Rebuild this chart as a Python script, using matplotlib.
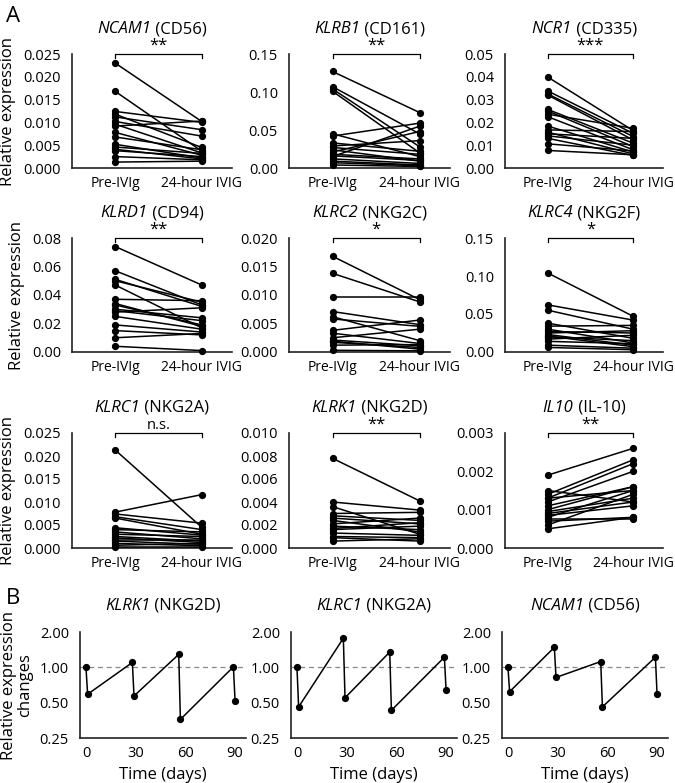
import matplotlib
matplotlib.use("Agg")
import matplotlib.pyplot as plt
import matplotlib.transforms as mtransforms
import numpy as np

plt.rcParams['font.family'] = ['Open Sans', 'DejaVu Sans']

# ---- Panel A data (pre-IVIg vs 24-hour IVIG, one pair per patient) ----
genes = ["NCAM1", "KLRB1", "NCR1", "KLRD1", "KLRC2", "KLRC4", "KLRC1", "KLRK1", "IL10"]
proteins = ["CD56", "CD161", "CD335", "CD94", "NKG2C", "NKG2F", "NKG2A", "NKG2D", "IL-10"]
signif = ["**", "**", "***", "**", "*", "*", "n.s.", "**", "**"]
ymax = [0.025, 0.15, 0.05, 0.08, 0.020, 0.15, 0.025, 0.010, 0.003]
ystep = [0.005, 0.05, 0.01, 0.02, 0.005, 0.05, 0.005, 0.002, 0.001]
yfmt = ["%.3f", "%.2f", "%.2f", "%.2f", "%.3f", "%.2f", "%.3f", "%.3f", "%.3f"]

pre = [
    [0.0230, 0.0168, 0.0124, 0.0118, 0.0112, 0.0102, 0.0096, 0.0092, 0.0078, 0.0068, 0.0052, 0.0046, 0.0041, 0.0038, 0.0025, 0.0013],
    [0.127, 0.107, 0.104, 0.101, 0.045, 0.042, 0.033, 0.029, 0.024, 0.021, 0.018, 0.015, 0.012, 0.009, 0.007, 0.004, 0.016, 0.027],
    [0.0399, 0.0338, 0.0325, 0.0320, 0.0257, 0.0250, 0.0236, 0.0225, 0.0184, 0.0167, 0.0157, 0.0150, 0.0141, 0.0130, 0.0106, 0.0077],
    [0.074, 0.057, 0.051, 0.050, 0.047, 0.037, 0.034, 0.030, 0.029, 0.025, 0.019, 0.015, 0.010, 0.004, 0.033, 0.028],
    [0.0168, 0.0138, 0.0096, 0.0071, 0.0062, 0.0058, 0.0038, 0.0033, 0.0025, 0.0021, 0.0017, 0.0012, 0.0003, 0.0019],
    [0.104, 0.062, 0.055, 0.038, 0.034, 0.030, 0.027, 0.023, 0.020, 0.017, 0.014, 0.009, 0.006, 0.025, 0.021],
    [0.0213, 0.0078, 0.0074, 0.0068, 0.0065, 0.0044, 0.0040, 0.0035, 0.0030, 0.0025, 0.0022, 0.0018, 0.0015, 0.0010, 0.0006, 0.0003],
    [0.0078, 0.0040, 0.0036, 0.0030, 0.0028, 0.0026, 0.0021, 0.0019, 0.0016, 0.0013, 0.0010, 0.0006, 0.0017, 0.0024, 0.0009],
    [0.0019, 0.0015, 0.0014, 0.0013, 0.0013, 0.0012, 0.0010, 0.00095, 0.0009, 0.0008, 0.0007, 0.0006, 0.0005, 0.0011, 0.00085, 0.00075],
]
post = [
    [0.0102, 0.0037, 0.0100, 0.0045, 0.0084, 0.0070, 0.0033, 0.0103, 0.0028, 0.0040, 0.0022, 0.0032, 0.0020, 0.0025, 0.0018, 0.0015],
    [0.073, 0.045, 0.028, 0.020, 0.015, 0.059, 0.022, 0.036, 0.009, 0.048, 0.012, 0.055, 0.006, 0.004, 0.003, 0.002, 0.010, 0.018],
    [0.0164, 0.0152, 0.0138, 0.0123, 0.0109, 0.0094, 0.0174, 0.0080, 0.0070, 0.0160, 0.0062, 0.0130, 0.0100, 0.0055, 0.0075, 0.0058],
    [0.047, 0.033, 0.032, 0.035, 0.017, 0.036, 0.018, 0.024, 0.022, 0.016, 0.014, 0.012, 0.013, 0.001, 0.019, 0.031],
    [0.0092, 0.0088, 0.0096, 0.0048, 0.0020, 0.0045, 0.0056, 0.0015, 0.0040, 0.0011, 0.0008, 0.0013, 0.0002, 0.0005],
    [0.047, 0.042, 0.030, 0.018, 0.035, 0.012, 0.025, 0.009, 0.015, 0.022, 0.011, 0.005, 0.003, 0.028, 0.007],
    [0.0045, 0.0116, 0.0054, 0.0040, 0.0030, 0.0028, 0.0035, 0.0020, 0.0025, 0.0015, 0.0012, 0.0018, 0.0008, 0.0005, 0.0010, 0.0003],
    [0.0041, 0.0033, 0.0012, 0.0031, 0.0024, 0.0021, 0.0026, 0.0016, 0.0019, 0.0011, 0.0009, 0.0008, 0.0022, 0.0014, 0.0006],
    [0.0026, 0.0012, 0.0023, 0.0022, 0.0015, 0.0020, 0.0016, 0.0013, 0.0012, 0.0015, 0.0008, 0.0014, 0.0008, 0.0016, 0.0011, 0.00075],
]
groups = ["Pre-IVIg", "24-hour IVIG"]

# ---- Panel B data (relative change over repeated IVIg courses) ----
b_genes = ["KLRK1", "KLRC1", "NCAM1"]
b_proteins = ["NKG2D", "NKG2A", "CD56"]
days = [0, 1, 28, 29, 56, 57, 89, 90]
b_values = [
    [1.00, 0.59, 1.10, 0.57, 1.29, 0.36, 1.01, 0.52],
    [1.00, 0.46, 1.77, 0.55, 1.35, 0.43, 1.22, 0.64],
    [1.00, 0.62, 1.48, 0.82, 1.12, 0.46, 1.22, 0.59],
]

fig = plt.figure(figsize=(6.75, 7.83), dpi=100)
W, H = 675.0, 783.0
renderer = fig.canvas.get_renderer()


def style(ax):
    for s in ["top", "right"]:
        ax.spines[s].set_visible(False)
    for s in ["left", "bottom"]:
        ax.spines[s].set_linewidth(1.2)
        ax.spines[s].set_color("#222222")
    ax.tick_params(length=0)
    ax.tick_params(axis="y", pad=8, labelsize=10.5)
    ax.tick_params(axis="x", pad=6, labelsize=10)


def title2(ax, ital, rest, above):
    # italic gene name followed by upright protein name, centred over the axes
    t1 = ax.text(0, 0, ital, fontsize=12, style="italic")
    t2 = ax.text(0, 0, " (" + rest + ")", fontsize=12)
    w1 = t1.get_window_extent(renderer).width
    w2 = t2.get_window_extent(renderer).width
    x0 = -(w1 + w2) / 2
    t1.set_transform(mtransforms.offset_copy(ax.transAxes, fig, x=x0, y=above, units="dots"))
    t2.set_transform(mtransforms.offset_copy(ax.transAxes, fig, x=x0 + w1, y=above, units="dots"))
    for t in (t1, t2):
        t.set_position((0.5, 1.0))
        t.set_va("baseline")
        t.set_ha("left")


# Panel A axes positions in pixels
col_left = [72, 289, 505]
col_right = [232, 450, 663]
row_top = [54, 238, 433]
row_bot = [168, 352, 548]

for i in range(9):
    r, c = divmod(i, 3)
    ax = fig.add_axes([col_left[c] / W, 1 - row_bot[r] / H,
                       (col_right[c] - col_left[c]) / W, (row_bot[r] - row_top[r]) / H])
    style(ax)
    for a, b in zip(pre[i], post[i]):
        ax.plot([0, 1], [a, b], color="black", lw=1.1, marker="o", ms=4.2, zorder=3, clip_on=False)
    ax.set_xlim(-0.5, 1.35)
    ax.set_ylim(0, ymax[i])
    yt = np.arange(0, ymax[i] + ystep[i] / 2, ystep[i])
    ax.set_yticks(yt)
    ax.set_yticklabels([yfmt[i] % v for v in yt])
    ax.set_xticks([0, 1])
    ax.set_xticklabels(groups)
    title2(ax, genes[i], proteins[i], 21)
    # significance bracket
    ytop = ymax[i]
    tick = ymax[i] * 0.035
    ax.plot([0, 0, 1, 1], [ytop - tick, ytop, ytop, ytop - tick], color="black", lw=0.9, clip_on=False)
    ax.text(0.5, ytop, signif[i], ha="center", va="bottom", fontsize=10.5 if signif[i] == "n.s." else 12)
    if c == 0:
        ax.set_ylabel("Relative expression", fontsize=12, labelpad=5)

# Panel B
b_left = [80, 291, 502]
b_right = [246, 457, 668]
for j in range(3):
    ax = fig.add_axes([b_left[j] / W, 1 - 738 / H, (b_right[j] - b_left[j]) / W, (738 - 632) / H])
    style(ax)
    ax.tick_params(axis="x", labelsize=10.5)
    ax.set_yscale("log", base=2)
    ax.set_ylim(0.25, 2.0)
    ax.set_yticks([0.25, 0.5, 1.0, 2.0])
    ax.set_yticklabels(["0.25", "0.50", "1.00", "2.00"])
    ax.minorticks_off()
    ax.set_xlim(-3.6, 96.6)
    ax.set_xticks([0, 30, 60, 90])
    ax.axhline(1.0, color="#888888", lw=0.9, ls=(0, (4, 3)), zorder=1)
    ax.plot(days, b_values[j], color="black", lw=1.1, marker="o", ms=4.2, zorder=3, clip_on=False)
    title2(ax, b_genes[j], b_proteins[j], 22)
    ax.set_xlabel("Time (days)", fontsize=12, labelpad=4)
    if j == 0:
        ax.set_ylabel("Relative expression\nchanges", fontsize=12, labelpad=5, linespacing=0.95)

fig.text(6 / W, 1 - 16 / H, "A", fontsize=16, ha="left", va="center")
fig.text(6 / W, 1 - 598 / H, "B", fontsize=16, ha="left", va="center")

fig.savefig("out.png", dpi=100)
